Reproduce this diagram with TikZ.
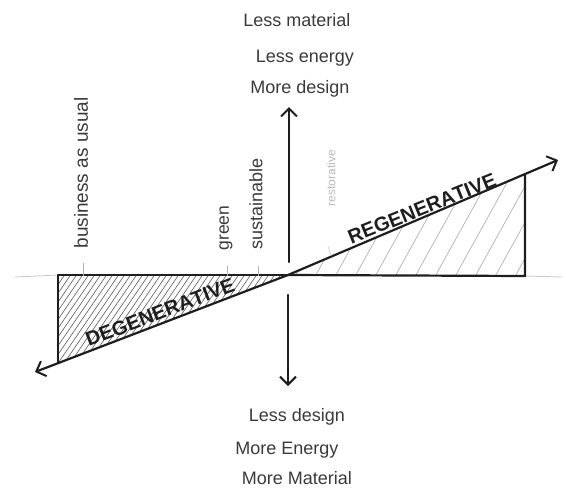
\documentclass[tikz,border=0pt]{standalone}
\usepackage{fontspec}
\setmainfont{Liberation Sans}
\usetikzlibrary{arrows.meta}
\definecolor{ink}{HTML}{1E1E1E}
\definecolor{pencil}{HTML}{3A3A3A}
\tikzset{
  stroke/.style={draw=ink, line width=2.2pt, line cap=round, line join=round},
  tip/.style={-{Straight Barb[length=8pt,width=16pt,line width=2pt]}},
  axisline/.style={draw=gray!45, line width=0.8pt},
  tickline/.style={draw=gray!60, line width=0.7pt},
  hand/.style={text=pencil, font=\fontsize{18}{20}\selectfont, inner sep=0pt},
  sidelabel/.style={text=pencil, rotate=90, inner sep=0pt},
  bigword/.style={text=ink, font=\fontsize{20}{22}\selectfont\bfseries\addfontfeature{Kerning=Off}, inner sep=1pt, anchor=south},
}
\begin{document}
\begin{tikzpicture}[x=1pt,y=-1pt]
\useasboundingbox (0,0) rectangle (566,493);
% key points
\coordinate (O) at (288,275);
\coordinate (L) at (35,372);
\coordinate (R) at (558,160);
\coordinate (DL) at (58,363);
\coordinate (DT) at (58,275);
\coordinate (RB) at (525,276);
\coordinate (RT) at (525,175);
\coordinate (Utop) at (289,107);
\coordinate (Ubot) at (289,262);
\coordinate (Dtop) at (288,295);
\coordinate (Dbot) at (288,386);
\coordinate (AxL) at (15,277);
\coordinate (AxR) at (562,277);
% horizontal axis (faint)
\draw[axisline] (AxL) -- (DT);
\draw[axisline] (RB) -- (AxR);
% hatching degenerative
\begin{scope}
  \clip (DT) -- (O) -- (DL) -- cycle;
  \foreach \i in {-20,-14,...,296} \draw[draw=gray!70!black, line width=0.6pt] (\i,372) -- (\i+70,270);
\end{scope}
% hatching regenerative
\begin{scope}
  \clip (O) -- (RB) -- (RT) -- cycle;
  \foreach \i in {232,252,...,532} \draw[draw=gray!60, line width=0.7pt] (\i,282) -- (\i+62,170);
\end{scope}
% triangles
\draw[stroke] (O) -- (DT) -- (DL);
\draw[stroke] (O) -- (RB) -- (RT);
% diagonal arrow
\draw[stroke, tip] (O) -- (L);
\draw[stroke, tip] (O) -- (R);
% vertical arrows
\draw[stroke, tip] (Ubot) -- (Utop);
\draw[stroke, tip] (Dtop) -- (Dbot);
% ticks
\coordinate (t1) at (83,263); \coordinate (t1b) at (83,276);
\coordinate (t2) at (227,266); \coordinate (t2b) at (227,276);
\coordinate (t3) at (258,266); \coordinate (t3b) at (258,276);
\coordinate (t4) at (328,246); \coordinate (t4b) at (331,256);
\draw[tickline] (t1) -- (t1b);
\draw[tickline] (t2) -- (t2b);
\draw[tickline] (t3) -- (t3b);
\draw[draw=gray!40, line width=0.7pt] (t4) -- (t4b);
% big words
\node[bigword, rotate=21] (deg) at (163,320) {DEGENERATIVE};
\node[bigword, rotate=22] (reg) at (425,216) {REGENERATIVE};
% side labels
\node[sidelabel, font=\fontsize{19}{21}\selectfont] (bau) at (81,173) {business as usual};
\node[sidelabel, font=\fontsize{17.5}{20}\selectfont] (green) at (226,228) {green};
\node[sidelabel, font=\fontsize{18}{20}\selectfont] (sust) at (256,204) {sustainable};
\node[sidelabel, text=gray!55, font=\fontsize{12}{14}\selectfont] (rest) at (331,178) {restorative};
% top labels
\node[hand] (lm) at (297,20) {Less material};
\node[hand] (le) at (305,58) {Less energy};
\node[hand] (md) at (300,89) {More design};
% bottom labels
\node[hand] (ld) at (297,417) {Less design};
\node[hand] (me) at (287,450) {More Energy};
\node[hand] (mm) at (297,478) {More Material};
\end{tikzpicture}
\end{document}
